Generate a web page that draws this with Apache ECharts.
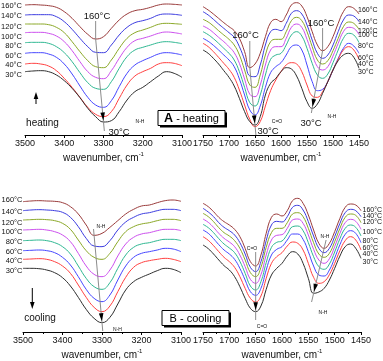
<!DOCTYPE html>
<html><head><meta charset="utf-8">
<script src="https://cdn.jsdelivr.net/npm/echarts@6/dist/echarts.min.js"></script>
<style>html,body{margin:0;padding:0;background:#fff}#c{width:383px;height:361px}</style>
</head><body><div id="c"></div>
<script>
// ---------- DATA ----------
const temps = ['30°C','40°C','60°C','80°C','100°C','120°C','140°C','160°C'];
const wnNH = [3500,3480,3460,3440,3420,3400,3380,3360,3340,3320,3300,3280,3260,3240,3220,3200,3180,3160,3140,3120,3100];
const wnFP = [1750,1740,1730,1720,1710,1700,1690,1680,1670,1660,1650,1640,1630,1620,1610,1600,1590,1580,1570,1560,1550,1540,1530,1520,1510,1500,1490,1480,1470,1460,1450];

// A - heating, N-H stretch region (transmittance, a.u., offset)
const hNH_30  = [190,192,193,190,180,163,140,112,80,55,39,43,70,105,130,143,160,177,190,185,173];
const hNH_40  = [213,215,213,207,193,170,143,113,83,62,55,70,110,150,177,190,200,213,217,215,208];
const hNH_60  = [245,247,247,243,233,213,183,147,113,90,83,103,145,185,210,223,233,243,247,245,240];
const hNH_80  = [277,278,278,275,265,247,220,187,157,140,137,160,200,235,255,263,270,277,280,278,274];
const hNH_100 = [307,308,308,305,297,280,253,220,190,173,169,193,230,263,283,290,297,305,309,307,303];
const hNH_120 = [333,333,333,331,323,307,280,250,223,205,202,225,260,290,307,315,323,332,335,334,332];
const hNH_140 = [360,361,361,361,355,340,317,290,265,248,247,270,300,323,337,343,350,360,363,362,359];
const hNH_160 = [390,391,390,388,383,370,350,325,302,288,295,320,345,363,373,377,383,390,393,392,390];

// A - heating, amide region
const hAM_30  = [255,245,230,213,193,173,147,110,70,40,30,55,120,155,170,190,202,198,177,140,100,80,93,125,160,195,223,240,245,233,200];
const hAM_40  = [275,265,250,233,215,197,173,135,90,47,25,40,87,133,165,190,210,217,213,190,150,117,113,130,160,195,227,255,265,255,227];
const hAM_60  = [290,281,269,255,240,225,205,168,120,75,60,87,143,187,205,217,240,265,270,255,210,160,133,137,160,195,230,260,275,267,245];
const hAM_80  = [310,301,289,275,260,245,225,190,143,97,87,120,180,227,240,245,270,300,310,297,260,215,180,170,183,217,255,290,305,300,277];
const hAM_100 = [327,319,307,293,280,265,247,215,168,122,115,150,210,255,265,265,290,323,333,323,287,243,205,195,205,237,275,310,323,320,301];
const hAM_120 = [347,339,327,313,300,287,270,240,195,150,143,180,240,280,287,287,310,343,353,343,310,265,225,213,223,253,290,325,339,335,317];
const hAM_140 = [370,360,347,333,320,307,293,265,225,177,175,210,270,310,317,313,335,365,373,363,330,285,245,230,240,270,310,345,360,357,340];
const hAM_160 = [385,375,363,350,337,325,313,290,250,202,213,245,295,337,347,340,360,390,397,387,355,310,270,253,265,295,335,370,385,380,363];

// B - cooling, N-H stretch region
const cNH_30  = [191,191,190,186,178,163,138,104,68,41,28,44,84,126,151,164,174,184,191,188,178];
const cNH_40  = [218,219,220,218,211,198,176,141,104,74,61,78,121,164,194,208,214,218,221,218,211];
const cNH_60  = [244,245,246,244,238,224,201,166,128,101,91,111,156,198,224,236,241,246,251,249,241];
const cNH_80  = [274,275,276,274,268,256,234,198,161,136,128,148,191,231,254,264,268,274,278,278,274];
const cNH_100 = [306,307,308,306,301,291,271,236,198,173,166,186,228,264,284,294,298,304,308,308,304];
const cNH_120 = [336,337,338,337,334,326,308,276,244,224,218,236,271,301,316,324,328,334,338,338,334];
const cNH_140 = [364,366,367,366,364,359,344,316,281,258,256,274,306,330,344,354,358,364,368,368,364];
const cNH_160 = [391,393,394,393,392,388,376,354,321,290,296,314,334,354,368,378,381,388,394,396,392];

// B - cooling, amide region
const cAM_30  = [261,250,234,216,199,186,166,136,101,71,61,78,128,171,191,206,228,241,234,206,161,116,120,131,156,191,228,256,264,251,221];
const cAM_40  = [286,275,259,241,224,211,194,166,131,101,90,108,161,206,226,238,258,270,266,246,206,164,146,151,172,206,244,274,286,276,246];
const cAM_60  = [306,296,280,262,246,234,218,191,156,121,110,131,186,231,248,256,276,294,294,278,241,198,171,168,186,222,262,293,304,296,268];
const cAM_80  = [323,313,298,280,264,252,238,212,176,138,126,151,208,254,269,273,293,316,318,304,268,226,196,188,204,240,280,311,321,314,288];
const cAM_100 = [339,329,314,296,281,270,256,231,196,158,146,172,231,276,290,292,311,336,339,326,291,248,216,206,220,256,296,328,338,332,308];
const cAM_120 = [356,346,331,313,298,288,274,251,216,178,166,194,254,298,311,311,328,354,358,346,311,268,234,224,236,271,311,344,354,350,328];
const cAM_140 = [371,360,346,328,314,304,291,268,234,194,181,211,274,321,332,330,346,374,380,366,331,288,251,238,251,286,326,358,368,364,346];
const cAM_160 = [386,376,361,344,331,321,308,286,251,211,198,231,296,344,354,348,364,394,401,386,351,306,266,251,266,301,341,374,384,381,364];

// ---------- STYLE / LAYOUT ----------
const colors = ['#2e2e2e','#ff4040','#4646ff','#2fb892','#cc4fee','#8aa826','#3c3ce0','#9a3b3b'];
const FONT = '"Liberation Sans", Arial, sans-serif';
const panels = [
  {xs: wnNH, sets: [hNH_30,hNH_40,hNH_60,hNH_80,hNH_100,hNH_120,hNH_140,hNH_160], min:3100, max:3500, interval:100, ymax:405,
   grid:{left:25, top:0, width:157, height:135}},
  {xs: wnFP, sets: [hAM_30,hAM_40,hAM_60,hAM_80,hAM_100,hAM_120,hAM_140,hAM_160], min:1450, max:1750, interval:50, ymax:405,
   grid:{left:203, top:0, width:156, height:135}},
  {xs: wnNH, sets: [cNH_30,cNH_40,cNH_60,cNH_80,cNH_100,cNH_120,cNH_140,cNH_160], min:3100, max:3500, interval:100, ymax:456,
   grid:{left:23, top:180, width:158, height:152}},
  {xs: wnFP, sets: [cAM_30,cAM_40,cAM_60,cAM_80,cAM_100,cAM_120,cAM_140,cAM_160], min:1450, max:1750, interval:50, ymax:456,
   grid:{left:203, top:180, width:158, height:152}}
];

const chart = echarts.init(document.getElementById('c'), null, {renderer:'canvas'});
const option = {
  animation:false, backgroundColor:'#fff',
  grid: panels.map(p => Object.assign({containLabel:false}, p.grid)),
  xAxis: panels.map((p,i) => ({
    type:'value', gridIndex:i, inverse:true, min:p.min, max:p.max, interval:p.interval,
    axisLine:{show:true, onZero:false, lineStyle:{color:'#000', width:1}},
    axisTick:{show:true, length:3, lineStyle:{color:'#000'}},
    minorTick:{show:true, splitNumber:2, length:2, lineStyle:{color:'#000'}},
    splitLine:{show:false}, minorSplitLine:{show:false},
    axisLabel:{fontSize:9, color:'#111', margin:4, fontFamily:FONT, formatter: v => String(v)},
    name:'wavenumber, cm{s|-1}', nameLocation:'middle', nameGap:16,
    nameTextStyle:{fontSize:10, color:'#111', fontFamily:FONT,
      rich:{s:{fontSize:6, color:'#111', fontFamily:FONT, padding:[0,0,8,0]}}}
  })),
  yAxis: panels.map((p,i) => ({type:'value', gridIndex:i, min:0, max:p.ymax, show:false})),
  series: []
};
panels.forEach((p,i) => {
  p.sets.forEach((arr,k) => {
    option.series.push({
      type:'line', name: temps[k], xAxisIndex:i, yAxisIndex:i, silent:true,
      data: p.xs.map((x,j) => [x, arr[j]]),
      smooth:0.45, symbol:'none', lineStyle:{width:1, color:colors[k]}, z: 2 + (7-k)*0.01
    });
  });
});
chart.setOption(option);

// ---------- ANNOTATIONS ----------
const G = [];
const GRAY = '#8c8c8c';
function txt(t, x, y, size, align, extra) {
  G.push({type:'text', silent:true, z:50, style:Object.assign({text:t, x:x, y:y, fill:'#111',
    font: (size)+'px '+FONT, fontSize:size, fontFamily:FONT, align:align||'center', verticalAlign:'middle',
    textAlign:align||'center', textVerticalAlign:'middle'}, extra||{})});
}
function line(x1,y1,x2,y2,color,w) {
  G.push({type:'line', silent:true, z:40, shape:{x1,y1,x2,y2}, style:{stroke:color||GRAY, lineWidth:w||1}});
}
function tri(tip, ux, uy, len, half) {
  const bx = tip[0]-ux*len, by = tip[1]-uy*len;
  const px = -uy, py = ux;
  G.push({type:'polygon', silent:true, z:45, shape:{points:[[tip[0],tip[1]],[bx+px*half,by+py*half],[bx-px*half,by-py*half]]},
    style:{fill:'#000'}});
}
function argmin(arr, xs, lo, hi) {
  let best=-1;
  for (let j=0;j<arr.length;j++) if (xs[j]>=lo && xs[j]<=hi && (best<0 || arr[j]<arr[best])) best=j;
  return best;
}
function toPx(i, x, y) { return chart.convertToPixel({xAxisIndex:i, yAxisIndex:i}, [x,y]); }
function shiftLine(pi, lo, hi, vertTop, yStart, yEnd) {
  const p = panels[pi];
  const top = p.sets[7], bot = p.sets[0];
  const iT = argmin(top, p.xs, lo, hi), iB = argmin(bot, p.xs, lo, hi);
  const a = toPx(pi, p.xs[iT], top[iT]), b = toPx(pi, p.xs[iB], bot[iB]);
  const dx=b[0]-a[0], dy=b[1]-a[1], L=Math.hypot(dx,dy), ux=dx/L, uy=dy/L;
  const atY = (y) => [a[0] + dx*(y-a[1])/dy, y];
  if (vertTop != null) line(a[0], vertTop, a[0], a[1]);
  const s = yStart != null ? atY(yStart) : a;
  const e = atY(yEnd);
  line(s[0], s[1], e[0], e[1]);
  tri([b[0]-ux*1.5, b[1]-uy*1.5], ux, uy, 8, 2.3);
  return {a, b};
}

// side temperature labels
const tlY = [75,65,55.7,46,37.3,27.3,16,5.7];
const trY = [71.7,64,58.3,45.7,35.3,31,21.7,10];
const blY = [270.7,261,251.7,241.7,232.3,222.7,212.3,200];
const brY = [261.7,254,247.7,240.7,231.7,222.3,216,210];
temps.forEach((t,k) => {
  txt(t, 22, tlY[k], 7.5, 'right');
  txt(t, 358, trY[k], 7, 'left');
  txt(t, 22.5, blY[k], 7.5, 'right');
  txt(t, 362.5, brY[k], 7, 'left');
});

// Panel A left: N-H
shiftLine(0, 3200, 3400, 21, null, 131);
txt('160°C', 97, 16, 9.5);
txt('30°C', 119, 132, 9.5);
txt('N-H', 140, 122, 5);
// Panel A right: C=O and N-H
shiftLine(1, 1620, 1700, 41, null, 135);
txt('160°C', 245.5, 35, 9.5);
txt('30°C', 268, 131, 9.5);
txt('C=O', 277, 122, 5);
shiftLine(1, 1500, 1560, 28, null, 113);
txt('160°C', 321, 23, 9.5);
txt('30°C', 311, 123, 9.5);
txt('N-H', 332, 117, 5);
// Panel B left
shiftLine(2, 3200, 3400, null, 229, 331);
txt('N-H', 101, 227, 5);
txt('N-H', 117.5, 329.5, 5);
// Panel B right
shiftLine(3, 1620, 1700, null, 252, 320);
txt('C=O', 252, 248.5, 5);
txt('C=O', 262, 327, 5);
shiftLine(3, 1500, 1560, null, 240, 302);
txt('N-H', 325, 237, 5);
txt('N-H', 323, 313, 5);

// heating / cooling arrows and words
line(36, 104, 36, 97, '#000', 1);
tri([36, 92], 0, -1, 7, 2.3);
txt('heating', 42.5, 123, 10);
line(32.3, 288, 32.3, 303, '#000', 1);
tri([32.3, 309], 0, 1, 7, 2.3);
txt('cooling', 40, 318, 10);

// boxed titles
function box(x, y, w, h, label) {
  G.push({type:'rect', silent:true, z:60, shape:{x:x+2, y:y+2, width:w, height:h}, style:{fill:'#000'}});
  G.push({type:'rect', silent:true, z:61, shape:{x:x, y:y, width:w, height:h}, style:{fill:'#fff', stroke:'#000', lineWidth:1}});
  G.push({type:'text', silent:true, z:62, style:{text:label, x:x+w/2, y:y+h/2+0.5, align:'center', verticalAlign:'middle',
    textAlign:'center', textVerticalAlign:'middle', fill:'#000', font:'11px '+FONT, fontSize:11, fontFamily:FONT,
    rich:{b:{fontWeight:'bold', fontSize:12.5, fontFamily:FONT, fill:'#000', color:'#000'}}}});
}
box(158, 110.5, 67, 15, '{b|A} - heating');
box(162, 310.5, 67, 15, 'B - cooling');

chart.setOption({graphic: G});
</script>
</body></html>
